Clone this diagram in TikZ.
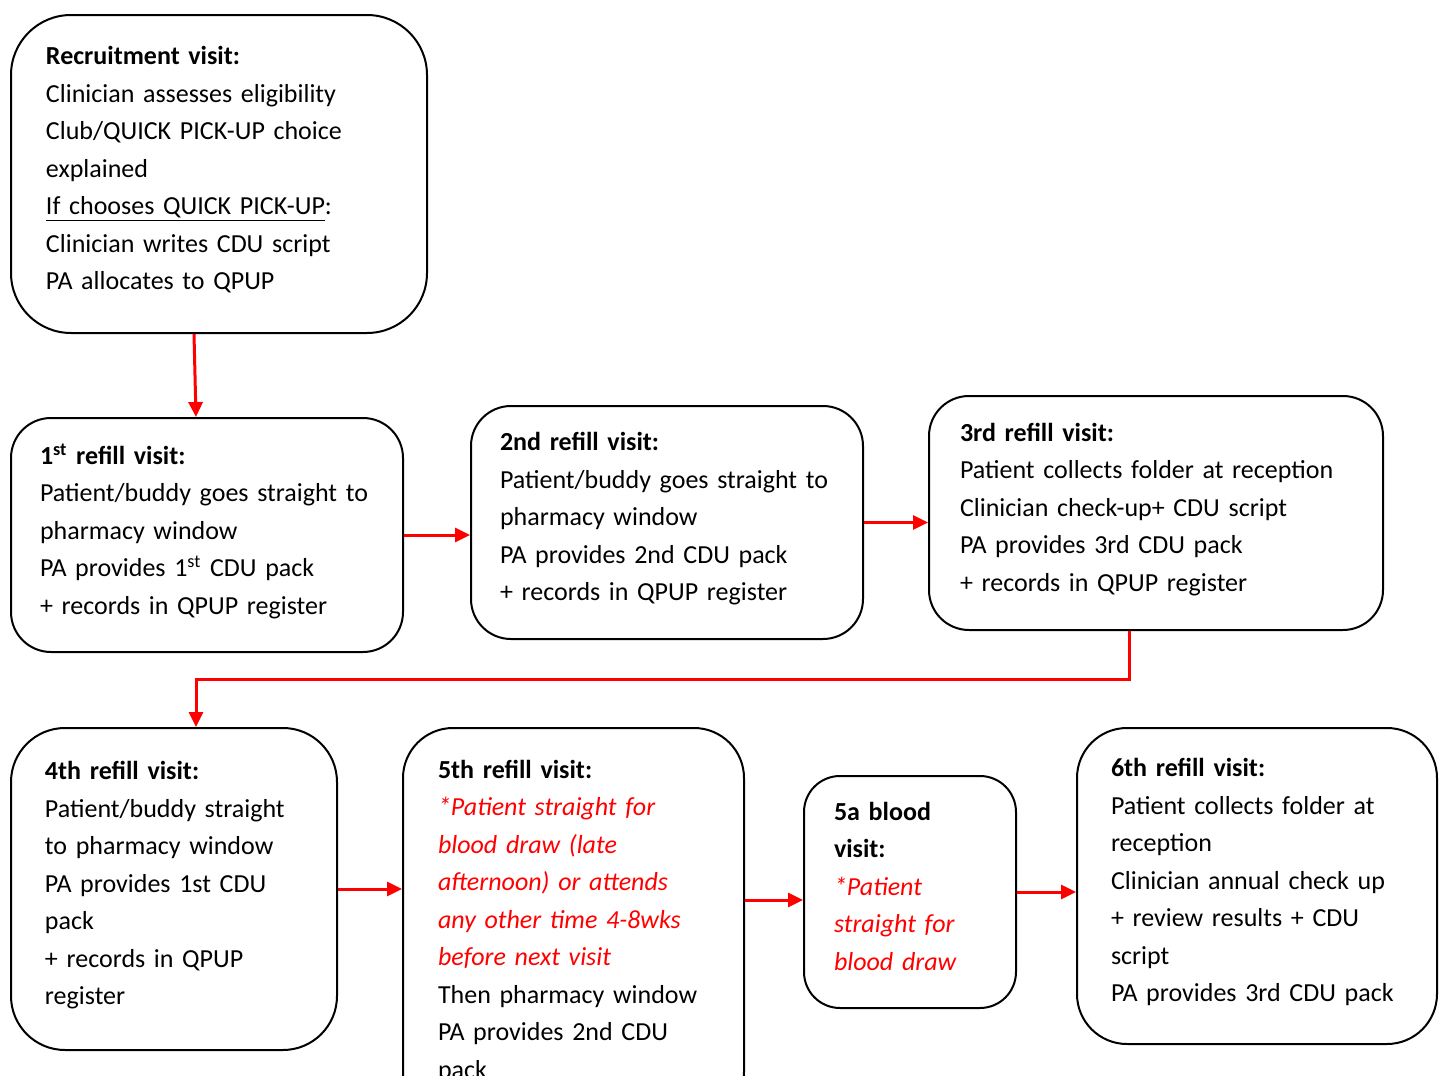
\documentclass[tikz,border=0pt]{standalone}
\usepackage{fontspec}
\setmainfont{Carlito}
\usetikzlibrary{arrows.meta}

\begin{document}
\begin{tikzpicture}[x=0.5pt,y=-0.5pt,
    visit/.style={draw,line width=1pt,anchor=north west,align=left,
        inner ysep=0pt,font=\fontsize{13}{18.75}\selectfont},
    flow/.style={color=red,line width=1.5pt,-{Triangle[length=7.5pt,width=7pt]}}]
    \useasboundingbox (0,0) rectangle (1442,1076);
    % first row
    \node[visit,rounded corners=30pt,inner xsep=17.5pt,text width=173pt,
        minimum width=208pt,minimum height=159pt] (rec) at (10,14)
        {\textbf{Recruitment visit:}\\
         Clinician assesses eligibility\\
         Club/QUICK PICK-UP choice\\
         explained\\
         \underline{If chooses QUICK PICK-UP}:\\
         Clinician writes CDU script\\
         PA allocates to QPUP\rule[-6pt]{0pt}{0pt}};
    % second row
    \node[visit,rounded corners=20pt,inner xsep=14.5pt,text width=167pt,
        minimum width=196pt,minimum height=117pt] (r1) at (10,417)
        {\textbf{1\textsuperscript{st} refill visit:}\\
         Patient/buddy goes straight to\\
         pharmacy window\\
         PA provides 1\textsuperscript{st} CDU pack\\
         + records in QPUP register\rule[-6pt]{0pt}{0pt}};
    \node[visit,rounded corners=20pt,inner xsep=14.5pt,text width=167pt,
        minimum width=196pt,minimum height=116.5pt] (r2) at (470,405)
        {\textbf{2nd refill visit:}\\
         Patient/buddy goes straight to\\
         pharmacy window\\
         PA provides 2nd CDU pack\\
         + records in QPUP register\rule[-6pt]{0pt}{0pt}};
    \node[visit,rounded corners=20pt,inner xsep=15.5pt,text width=196pt,
        minimum width=227pt,minimum height=117pt] (r3) at (928,395)
        {\textbf{3rd refill visit:}\\
         Patient collects folder at reception\\
         Clinician check-up+ CDU script\\
         PA provides 3rd CDU pack\\
         + records in QPUP register\rule[-6pt]{0pt}{0pt}};
    % third row
    \node[visit,rounded corners=27pt,inner xsep=17pt,text width=129pt,
        minimum width=163pt,minimum height=161pt] (r4) at (10,727)
        {\textbf{4th refill visit:}\\
         Patient/buddy straight\\
         to pharmacy window\\
         PA provides 1st CDU\\
         pack\\
         + records in QPUP\\
         register\rule[-6pt]{0pt}{0pt}};
    \node[visit,rounded corners=25pt,inner xsep=17.5pt,text width=135.5pt,
        minimum width=170.5pt,minimum height=197pt] (r5) at (402,727)
        {\textbf{5th refill visit:}\\
         \textcolor{red}{\itshape *Patient straight for}\\
         \textcolor{red}{\itshape blood draw (late}\\
         \textcolor{red}{\itshape afternoon) or attends}\\
         \textcolor{red}{\itshape any other time 4-8wks}\\
         \textcolor{red}{\itshape before next visit}\\
         Then pharmacy window\\
         PA provides 2nd CDU\\
         pack\rule[-6pt]{0pt}{0pt}};
    \node[visit,rounded corners=18pt,inner xsep=15pt,text width=76pt,
        minimum width=106pt,minimum height=116pt] (r5a) at (803,775)
        {\textbf{5a blood}\\
         \textbf{visit:}\\
         \textcolor{red}{\itshape *Patient}\\
         \textcolor{red}{\itshape straight for}\\
         \textcolor{red}{\itshape blood draw}\rule[-6pt]{0pt}{0pt}};
    \node[visit,rounded corners=25pt,inner xsep=17pt,text width=146pt,
        minimum width=180pt,minimum height=158pt] (r6) at (1076,727)
        {\textbf{6th refill visit:}\\
         Patient collects folder at\\
         reception\\
         Clinician annual check up\\
         + review results + CDU\\
         script\\
         PA provides 3rd CDU pack\rule[-6pt]{0pt}{0pt}};
    % arrows
    \coordinate (in5a) at ([yshift=-4pt]r5a.west);
    \draw[flow] ([xshift=-12.5pt]rec.south) -- ([xshift=-5.5pt]r1.north);
    \draw[flow] (r1.east) -- (r1.east -| r2.west);
    \draw[flow] (r2.east) -- (r2.east -| r3.west);
    \draw[flow] ([xshift=-13.5pt]r3.south) -- ++(0pt,-24pt)
        -| ([xshift=11pt]r4.north);
    \draw[flow] (r4.east) -- (r4.east -| r5.west);
    \draw[flow] (r5.east |- in5a) -- (in5a);
    \draw[flow] (r5a.east) -- (r5a.east -| r6.west);
\end{tikzpicture}
\end{document}
